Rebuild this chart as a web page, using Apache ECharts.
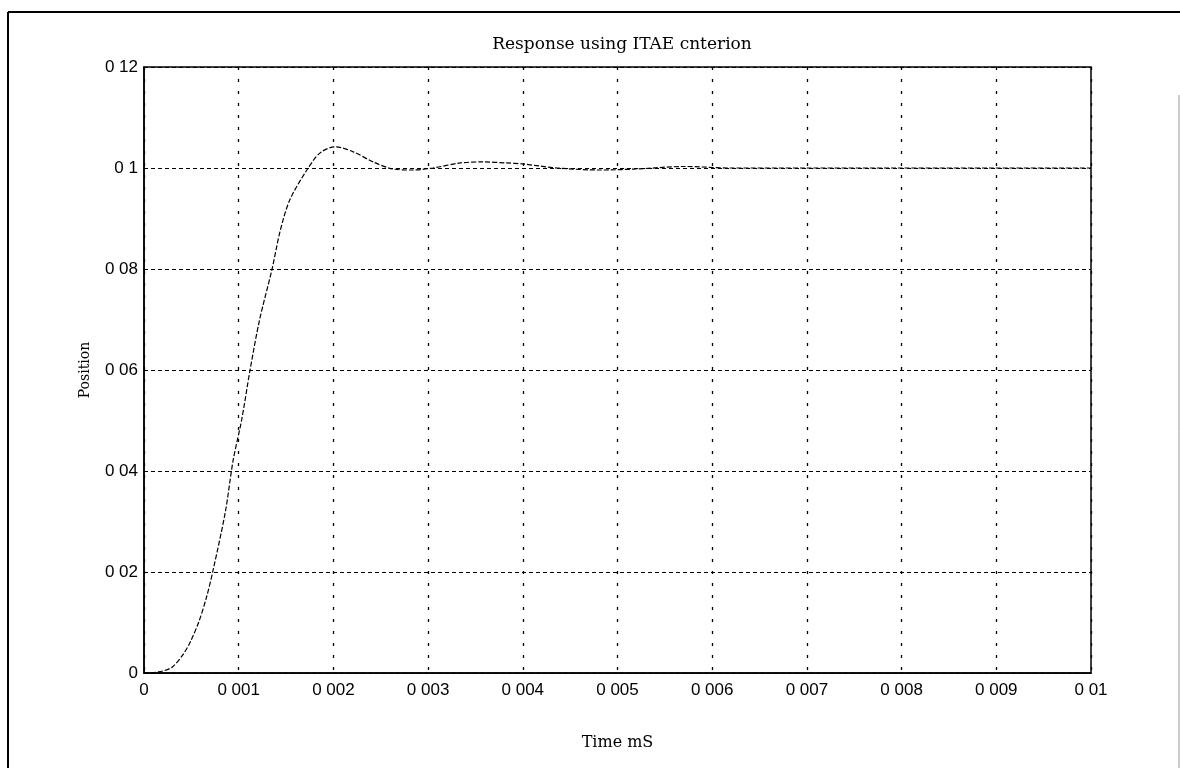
<!DOCTYPE html>
<html>
<head>
<meta charset="utf-8">
<script src="https://cdn.jsdelivr.net/npm/echarts@6/dist/echarts.min.js"></script>
<style>
html,body{margin:0;padding:0;background:#fff;}
#chart{width:1180px;height:768px;}
</style>
</head>
<body>
<div id="chart"></div>
<script>
// Data
var timeValues = [0, 0.0001, 0.0002, 0.0003, 0.00041, 0.00049, 0.00058, 0.00066, 0.00073, 0.00086, 0.00094, 0.00103, 0.00112, 0.00122, 0.00135, 0.00144, 0.00154, 0.00172, 0.00186, 0.00202, 0.00221, 0.00242, 0.00263, 0.00284, 0.00305, 0.00334, 0.00358, 0.00383, 0.004, 0.00436, 0.00482, 0.0052, 0.0057, 0.0062, 0.007, 0.008, 0.009, 0.01];
var positionValues = [0, 0.0001, 0.0004, 0.0012, 0.0036, 0.0062, 0.0102, 0.015, 0.0204, 0.032, 0.042, 0.050, 0.060, 0.0699, 0.0798, 0.0877, 0.0937, 0.0996, 0.103, 0.1042, 0.1032, 0.1012, 0.0998, 0.0996, 0.1, 0.101, 0.1012, 0.101, 0.1008, 0.1, 0.0996, 0.0998, 0.1003, 0.1, 0.1, 0.1, 0.1, 0.1];
var titleText = 'Response using ITAE cnterion';
var xName = 'Time mS';
var yName = 'Position';

var seriesData = timeValues.map(function (t, i) { return [t, positionValues[i]]; });

function fmt(v) {
  var s = String(+v.toFixed(6));
  return s.replace('.', ' ');
}

var chart = echarts.init(document.getElementById('chart'), null, {renderer: 'canvas'});
chart.setOption({
  backgroundColor: '#ffffff',
  animation: false,
  title: {
    text: titleText,
    left: 617,
    top: 31,
    textAlign: 'center',
    textStyle: {fontFamily: 'DejaVu Serif', fontSize: 17, fontWeight: 'normal', color: '#000'}
  },
  grid: {left: 144, right: 89, top: 67, bottom: 95, containLabel: false,
    show: true, borderColor: '#000', borderWidth: 1.5, backgroundColor: 'transparent'},
  xAxis: {
    type: 'value', min: 0, max: 0.01, interval: 0.001,
    name: xName, nameLocation: 'middle', nameGap: 62,
    nameTextStyle: {fontFamily: 'DejaVu Serif', fontSize: 16, color: '#000'},
    axisLine: {show: true, lineStyle: {color: '#000', width: 1.5}},
    axisTick: {show: false},
    axisLabel: {formatter: fmt, margin: 9, fontFamily: 'Liberation Sans', fontSize: 17, color: '#000'},
    splitLine: {show: true, lineStyle: {color: '#000', width: 1.3, type: [3, 9]}}
  },
  yAxis: {
    type: 'value', min: 0, max: 0.12, interval: 0.02,
    name: yName, nameLocation: 'middle', nameGap: 52, nameRotate: 90,
    nameTextStyle: {fontFamily: 'DejaVu Serif', fontSize: 14, color: '#000'},
    axisLine: {show: true, lineStyle: {color: '#000', width: 1.5}},
    axisTick: {show: false},
    axisLabel: {formatter: fmt, margin: 6, fontFamily: 'Liberation Sans', fontSize: 17, color: '#000'},
    splitLine: {show: true, lineStyle: {color: '#000', width: 1.2, type: [4, 3]}}
  },
  series: [{
    type: 'line',
    data: seriesData,
    smooth: 0.3,
    showSymbol: false,
    lineStyle: {color: '#000', width: 1.2, type: [5, 2]}
  }],
  graphic: [
    {type: 'line', shape: {x1: 8, y1: 12, x2: 1180, y2: 12}, style: {stroke: '#000', lineWidth: 2}},
    {type: 'line', shape: {x1: 8, y1: 12, x2: 8, y2: 768}, style: {stroke: '#000', lineWidth: 2}},
    {type: 'line', shape: {x1: 1179, y1: 95, x2: 1179, y2: 768}, style: {stroke: '#999', lineWidth: 1}}
  ]
});
</script>
</body>
</html>
